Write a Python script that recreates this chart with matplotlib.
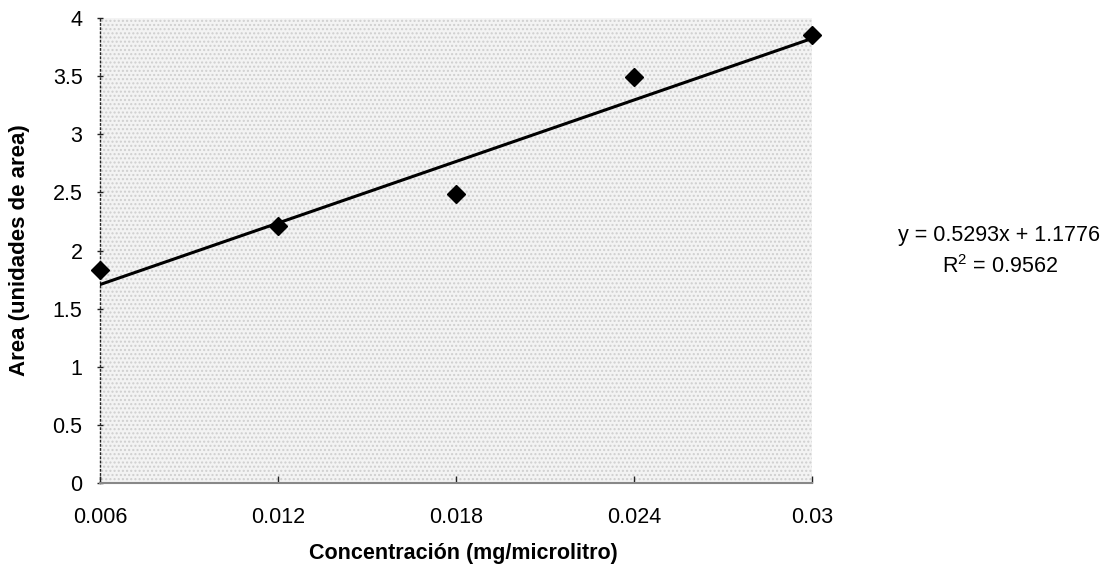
import matplotlib
matplotlib.use("Agg")
import matplotlib.pyplot as plt
from matplotlib.patches import Rectangle

plt.rcParams['font.family'] = ['Liberation Sans', 'DejaVu Sans']
plt.rcParams['hatch.linewidth'] = 1.0

# concentration (mg/microlitro) and measured area
conc = [0.006, 0.012, 0.018, 0.024, 0.03]
area = [1.83, 2.21, 2.49, 3.49, 3.85]
xlabels = ['0.006', '0.012', '0.018', '0.024', '0.03']

# linear trend as fitted against point number 1..5
slope = 0.5293
intercept = 1.1776
r2 = 0.9562
trend = [slope * (i + 1) + intercept for i in range(len(conc))]

fig = plt.figure(figsize=(11.13, 5.68), dpi=100)
ax = fig.add_axes([0.0898, 0.1496, 0.6398, 0.8187])

# grey stippled plot area
ax.patch.set_visible(False)
ax.add_patch(Rectangle((0, 0), 1, 1, transform=ax.transAxes, facecolor='#f3f3f3',
                       edgecolor='#cfcfcf', hatch='....', lw=0, zorder=0))

ax.plot(conc, trend, color='black', lw=2.2, zorder=3)
ax.plot(conc, area, 'D', color='black', markersize=9, zorder=4, clip_on=False)

ax.set_xlim(0.006, 0.03)
ax.set_ylim(0, 4)
ax.set_xticks(conc)
ax.set_xticklabels(xlabels)
ax.set_yticks([0, 0.5, 1, 1.5, 2, 2.5, 3, 3.5, 4])
ax.set_yticklabels(['0', '0.5', '1', '1.5', '2', '2.5', '3', '3.5', '4'])

for s in ['top', 'right']:
    ax.spines[s].set_visible(False)
ax.spines['left'].set_linestyle((0, (1, 2)))
ax.spines['left'].set_linewidth(1.0)
ax.spines['left'].set_color('#222222')
ax.spines['bottom'].set_color('#888888')
ax.spines['bottom'].set_linewidth(1.5)

ax.tick_params(axis='y', direction='inout', length=5, width=1, labelsize=15.5, pad=10, colors='#222222')
ax.tick_params(axis='x', direction='in', length=5, width=1, labelsize=15.5, pad=17, colors='#222222')
for lbl in ax.get_xticklabels() + ax.get_yticklabels():
    lbl.set_color('black')

ax.set_xlabel('Concentración (mg/microlitro)', fontsize=15.5, fontweight='bold')
ax.xaxis.set_label_coords(0.51, -0.128)
ax.set_ylabel('Area (unidades de area)', fontsize=16, fontweight='bold', labelpad=16)

fig.text(0.898, 0.586, 'y = 0.5293x + 1.1776', ha='center', va='center', fontsize=15.5)
fig.text(0.898, 0.530, '$\\mathregular{R^2}$ = %.4f' % r2, ha='center', va='center', fontsize=15.5)

fig.savefig('out.png', dpi=100)
